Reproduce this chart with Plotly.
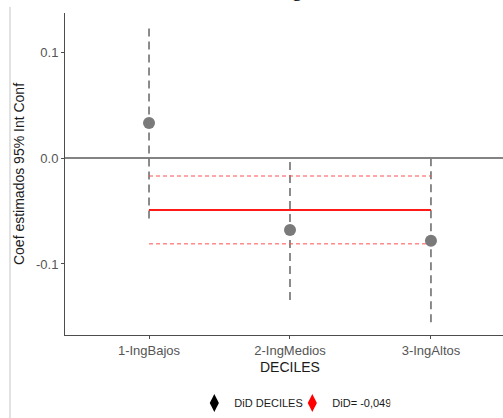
import plotly.graph_objects as go

categories = ["1-IngBajos", "2-IngMedios", "3-IngAltos"]
coef = [0.033, -0.068, -0.078]
ci_low = [-0.057, -0.134, -0.155]
ci_high = [0.123, -0.002, -0.001]
did = -0.049
did_low = -0.081
did_high = -0.017
y_ticks = [-0.1, 0.0, 0.1]
y_ticklabels = ["-0.1", "0.0", "0.1"]

W, H = 503, 418
L, R, T, B = 65, 0, 13, 83
ph = H - T - B
pw = W - L - R

def py(px):
    return (H - B - px) / ph

def pxx(px):
    return (px - L) / pw

FONT = "Liberation Sans, Arial, sans-serif"
xs = list(range(len(categories)))

fig = go.Figure()

# CI segments
cx, cy = [], []
for i in xs:
    cx += [i, i, None]
    cy += [ci_low[i], ci_high[i], None]
fig.add_trace(go.Scatter(x=cx, y=cy, mode="lines",
                         line=dict(color="#707070", width=1.6, dash="8px,5px"),
                         showlegend=False, hoverinfo="skip"))

# DiD lines
fig.add_trace(go.Scatter(x=[xs[0], xs[-1]], y=[did_high, did_high], mode="lines",
                         line=dict(color="#ff4d4d", width=1, dash="4px,3px"),
                         showlegend=False, hoverinfo="skip"))
fig.add_trace(go.Scatter(x=[xs[0], xs[-1]], y=[did_low, did_low], mode="lines",
                         line=dict(color="#ff4d4d", width=1, dash="4px,3px"),
                         showlegend=False, hoverinfo="skip"))
fig.add_trace(go.Scatter(x=[xs[0], xs[-1]], y=[did, did], mode="lines",
                         line=dict(color="#ff1a1a", width=2),
                         showlegend=False, hoverinfo="skip"))

# points
fig.add_trace(go.Scatter(x=xs, y=coef, mode="markers",
                         marker=dict(color="#7a7a7a", size=12),
                         showlegend=False))

# legend entries
fig.add_trace(go.Scatter(x=[None], y=[None], mode="markers", name="DiD DECILES",
                         marker=dict(color="black", size=13, symbol="diamond-tall")))
fig.add_trace(go.Scatter(x=[None], y=[None], mode="markers", name="DiD= -0,049",
                         marker=dict(color="red", size=13, symbol="diamond-tall")))

# zero line
fig.add_hline(y=0, line=dict(color="#5a5a5a", width=1.5), layer="below")

fig.update_layout(
    width=W, height=H,
    margin=dict(l=L, r=R, t=T, b=B),
    paper_bgcolor="white", plot_bgcolor="white",
    font=dict(family=FONT),
    showlegend=True,
    legend=dict(orientation="h", x=0.519, xanchor="center", y=py(403), yanchor="middle",
                font=dict(size=11, color="#1a1a1a"), itemwidth=30, entrywidth=53,
                bgcolor="rgba(0,0,0,0)"),
    xaxis=dict(range=[-0.596, 2.511],
               tickmode="array", tickvals=xs, ticktext=categories,
               showgrid=False, zeroline=False, showline=True, linecolor="#4d4d4d", linewidth=1,
               ticks="outside", ticklen=3, tickcolor="#4d4d4d",
               tickfont=dict(size=13, color="#555555")),
    yaxis=dict(range=[-0.167, 0.1368],
               tickmode="array", tickvals=y_ticks, ticktext=y_ticklabels,
               showgrid=False, zeroline=False, showline=True, linecolor="#4d4d4d", linewidth=1,
               ticks="outside", ticklen=3, tickcolor="#4d4d4d",
               tickfont=dict(size=13, color="#555555"),
               title=dict(text="Coef estimados 95% Int Conf", font=dict(size=14, color="#1a1a1a"),
                          standoff=8)),
)

fig.add_annotation(text="DECILES", x=1, xref="x", y=py(367), yref="paper",
                   showarrow=False, font=dict(size=14, color="#1a1a1a"), yanchor="middle")

# cut-off title fragment at the top
fig.add_annotation(text="g", x=pxx(297), xref="paper", y=py(3), yref="paper",
                   showarrow=False, yanchor="bottom",
                   font=dict(size=20, color="black", family="Liberation Serif, serif"))

# thin page border line on the left
fig.add_shape(type="line", xref="paper", yref="paper",
              x0=pxx(10), x1=pxx(10), y0=py(7), y1=py(418),
              line=dict(color="#d9d9d9", width=1.5))

fig.write_html("out.html")
